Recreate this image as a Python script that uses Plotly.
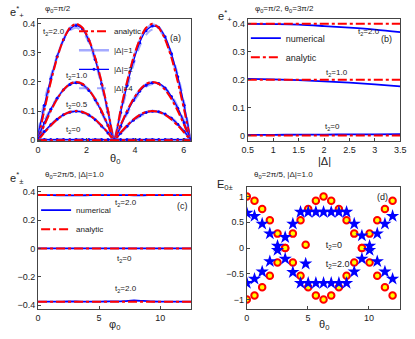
import numpy as np
import plotly.graph_objects as go

# ---------------- data ----------------
# panel (a): theta0 grid and e*_+ values
theta_a = np.linspace(0, 2 * np.pi, 25)
a_t2_20 = [0, .104, .2, .283, .346, .386, .4, .386, .346, .283, .2, .104, 0,
           .104, .2, .283, .346, .386, .4, .386, .346, .283, .2, .104, 0]
a_t2_10 = [0, .052, .1, .141, .173, .193, .2, .193, .173, .141, .1, .052, 0,
           .052, .1, .141, .173, .193, .2, .193, .173, .141, .1, .052, 0]
a_t2_05 = [0, .026, .05, .071, .087, .097, .1, .097, .087, .071, .05, .026, 0,
           .026, .05, .071, .087, .097, .1, .097, .087, .071, .05, .026, 0]
a_t2_00 = [0] * 25

d1_t2_20 = [.01, .11, .205, .285, .346, .385, .398, .385, .345, .28, .197, .1, .005,
            .1, .195, .278, .342, .383, .397, .388, .352, .29, .21, .112, .005]
d2_t2_20 = [.02, .12, .21, .287, .345, .382, .394, .382, .342, .277, .193, .097, .005,
            .095, .188, .27, .335, .376, .392, .387, .355, .297, .218, .12, .005]
d4_t2_20 = [.03, .135, .22, .29, .343, .377, .386, .375, .335, .27, .186, .09, .005,
            .085, .176, .257, .322, .362, .38, .377, .352, .3, .225, .13, .005]

d1_t2_10 = [.005, .055, .103, .142, .173, .193, .2, .193, .173, .141, .1, .052, .003,
            .05, .098, .14, .172, .192, .199, .194, .176, .146, .106, .057, .003]
d2_t2_10 = [.01, .06, .106, .144, .173, .191, .197, .191, .171, .139, .097, .05, .003,
            .048, .095, .136, .168, .189, .197, .195, .179, .15, .11, .06, .003]
d4_t2_10 = [.015, .068, .11, .146, .172, .189, .194, .188, .168, .135, .093, .046, .003,
            .043, .089, .13, .162, .184, .193, .193, .18, .155, .115, .066, .003]

d1_t2_05 = [.003, .028, .051, .071, .087, .097, .1, .097, .087, .071, .05, .026, .002,
            .025, .049, .07, .086, .096, .1, .097, .088, .073, .053, .029, .002]
d2_t2_05 = [.005, .03, .053, .072, .087, .096, .099, .096, .086, .07, .049, .025, .002,
            .024, .048, .068, .084, .095, .099, .098, .09, .075, .055, .03, .002]
d4_t2_05 = [.008, .034, .055, .073, .086, .095, .097, .094, .084, .068, .047, .023, .002,
            .022, .045, .065, .081, .092, .097, .097, .09, .078, .058, .033, .002]

d1_t2_00 = [.001] * 25
d2_t2_00 = [.002] * 25
d4_t2_00 = [.004] * 25

# panel (b): |Delta| grid
delta_b = [0.5, 1.0, 1.5, 2.0, 2.5, 3.0, 3.5]
b_num_20 = [0.400, 0.399, 0.397, 0.392, 0.386, 0.379, 0.370]
b_num_10 = [0.203, 0.201, 0.198, 0.194, 0.189, 0.183, 0.176]
b_num_00 = [0.002, 0.002, 0.003, 0.003, 0.004, 0.004, 0.005]
b_ana_20 = [0.4] * 7
b_ana_10 = [0.2] * 7
b_ana_00 = [0.0] * 7

# panel (c): phi0 grid
phi_c = np.linspace(0, 4 * np.pi, 17)
c_num_p = [0.376, 0.376, 0.375, 0.374, 0.374, 0.375, 0.376, 0.376, 0.376,
           0.376, 0.375, 0.375, 0.376, 0.376, 0.376, 0.376, 0.376]
c_num_0 = [0.0] * 17
c_num_m = [-0.376, -0.376, -0.376, -0.375, -0.375, -0.376, -0.376, -0.375, -0.374,
           -0.372, -0.368, -0.371, -0.375, -0.376, -0.376, -0.376, -0.376]
c_ana_p = [0.377] * 17
c_ana_0 = [0.0] * 17
c_ana_m = [-0.377] * 17

# panel (d): theta0 grid
theta_d = np.linspace(0, 19 * np.pi / 5, 20)
d_c_up = [1.0, 0.92, 0.76, 0.54, 0.28, 0.0, 0.28, 0.54, 0.76, 0.92,
          1.0, 0.92, 0.76, 0.54, 0.28, 0.0, 0.28, 0.54, 0.76, 0.92]
d_c_dn = [-1.0, -0.92, -0.76, -0.54, -0.28, 0.0, -0.28, -0.54, -0.76, -0.92,
          -1.0, -0.92, -0.76, -0.54, -0.28, 0.0, -0.28, -0.54, -0.76, -0.92]
d_s_up = [0.68, 0.62, 0.47, 0.28, 0.04, 0.21, 0.47, 0.70, 0.70, 0.70,
          0.70, 0.70, 0.70, 0.70, 0.47, 0.24, 0.04, 0.28, 0.47, 0.62]
d_s_dn = [-0.68, -0.60, -0.46, -0.26, -0.04, -0.21, -0.47, -0.68, -0.68, -0.68,
          -0.68, -0.68, -0.68, -0.68, -0.46, -0.21, -0.04, -0.26, -0.46, -0.60]

# ---------------- styles ----------------
RED = "#ff0000"
BLUE = "#0000ff"
LBLUE = "rgba(90,100,255,0.55)"
FONT = "Liberation Sans, Arial, sans-serif"

fig = go.Figure()

def add(x, y, xa, ya, name=None, legend=None, show=False, **kw):
    fig.add_trace(go.Scatter(x=x, y=y, xaxis=xa, yaxis=ya, name=name,
                             showlegend=show, legend=legend, **kw))

# panel (a)
for arr1, arr2, arr4, arrA in [(d1_t2_20, d2_t2_20, d4_t2_20, a_t2_20),
                               (d1_t2_10, d2_t2_10, d4_t2_10, a_t2_10),
                               (d1_t2_05, d2_t2_05, d4_t2_05, a_t2_05),
                               (d1_t2_00, d2_t2_00, d4_t2_00, a_t2_00)]:
    add(theta_a, arr1, "x", "y", "|Δ|=1", "legend", False,
        mode="lines", line=dict(color=LBLUE, width=2.5, shape="spline", smoothing=0.6))
    add(theta_a, arr4, "x", "y", "|Δ|=4", "legend", False,
        mode="lines", line=dict(color=LBLUE, width=2, dash="dash", shape="spline", smoothing=0.6))
    add(theta_a, arr2, "x", "y", "|Δ|=2", "legend", False,
        mode="lines+markers", marker=dict(size=3, color=BLUE),
        line=dict(color=BLUE, width=1.2, shape="spline", smoothing=0.6))
    add(theta_a, arrA, "x", "y", "analytic", "legend", False,
        mode="lines", line=dict(color=RED, width=2, dash="dashdot", shape="spline", smoothing=0.6))

# legend entries for (a)
add([None], [None], "x", "y", "analytic", "legend", True, mode="lines",
    line=dict(color=RED, width=2, dash="dashdot"))
add([None], [None], "x", "y", "|Δ|=1", "legend", True, mode="lines",
    line=dict(color=LBLUE, width=2.5))
add([None], [None], "x", "y", "|Δ|=2", "legend", True, mode="lines+markers",
    marker=dict(size=3, color=BLUE), line=dict(color=BLUE, width=1.2))
add([None], [None], "x", "y", "|Δ|=4", "legend", True, mode="lines",
    line=dict(color=LBLUE, width=2, dash="dash"))

# panel (b)
for arr in [b_num_20, b_num_10, b_num_00]:
    add(delta_b, arr, "x2", "y2", "numerical", "legend2", arr is b_num_20,
        mode="lines", line=dict(color=BLUE, width=1.8, shape="spline"))
for arr in [b_ana_20, b_ana_10, b_ana_00]:
    add(delta_b, arr, "x2", "y2", "analytic", "legend2", arr is b_ana_20,
        mode="lines", line=dict(color=RED, width=2, dash="dashdot"))

# panel (c)
for arr in [c_num_p, c_num_0, c_num_m]:
    add(phi_c, arr, "x3", "y3", "numerical", "legend3", arr is c_num_p,
        mode="lines", line=dict(color=BLUE, width=1.8, shape="spline"))
for arr in [c_ana_p, c_ana_0, c_ana_m]:
    add(phi_c, arr, "x3", "y3", "analytic", "legend3", arr is c_ana_p,
        mode="lines", line=dict(color=RED, width=2, dash="dashdot"))

# panel (d)
circ = dict(symbol="circle", size=6.5, color="#ffff00", line=dict(color=RED, width=2))
star = dict(symbol="star", size=10, color=BLUE, line=dict(width=0))
add(theta_d, d_c_up, "x4", "y4", "t<sub>2</sub>=0", "legend4", True, mode="markers", marker=circ)
add(theta_d, d_c_dn, "x4", "y4", None, "legend4", False, mode="markers", marker=circ)
add(theta_d, d_s_up, "x4", "y4", "t<sub>2</sub>=2.0", "legend4", True, mode="markers", marker=star)
add(theta_d, d_s_dn, "x4", "y4", None, "legend4", False, mode="markers", marker=star)

# ---------------- layout ----------------
W, H = 415, 339
def dx(a, b):
    return [a / W, b / W]
def dy(top, bot):
    return [1 - bot / H, 1 - top / H]

axis_common = dict(showline=True, mirror=True, linecolor="#444", linewidth=1,
                   ticks="inside", ticklen=3, tickcolor="#444", showgrid=False,
                   zeroline=False, tickfont=dict(size=9, color="#222", family=FONT))

fig.update_layout(
    width=W, height=H, margin=dict(l=0, r=0, t=0, b=0),
    paper_bgcolor="white", plot_bgcolor="white",
    font=dict(family=FONT, size=9, color="#222"),
    xaxis=dict(domain=dx(33, 190), range=[0, 2 * np.pi], tickvals=[0, 2, 4, 6], anchor="y", **axis_common),
    yaxis=dict(domain=dy(19, 143), range=[-0.004, 0.417], tickvals=[0, 0.1, 0.2, 0.3, 0.4], anchor="x", **axis_common),
    xaxis2=dict(domain=dx(249, 406), range=[0.5, 3.5], tickvals=[0.5, 1, 1.5, 2, 2.5, 3, 3.5], anchor="y2", **axis_common),
    yaxis2=dict(domain=dy(19, 143), range=[-0.021, 0.418], tickvals=[0, 0.1, 0.2, 0.3, 0.4], anchor="x2", **axis_common),
    xaxis3=dict(domain=dx(33, 191), range=[0, 4 * np.pi], tickvals=[0, 5, 10], anchor="y3", **axis_common),
    yaxis3=dict(domain=dy(189, 313), range=[-0.43, 0.435], tickvals=[-0.4, -0.2, 0, 0.2, 0.4],
                ticktext=["−0.4", "−0.2", "0", "0.2", "0.4"], anchor="x3", **axis_common),
    xaxis4=dict(domain=dx(248, 406), range=[0, 4 * np.pi], tickvals=[0, 5, 10], anchor="y4", **axis_common),
    yaxis4=dict(domain=dy(189, 313), range=[-1.19, 1.19], tickvals=[-1, -0.5, 0, 0.5, 1],
                ticktext=["−1", "−0.5", "0", "0.5", "1"], anchor="x4", **axis_common),
    legend=dict(x=70 / W, y=1 - 17 / H, xanchor="left", yanchor="top", bgcolor="rgba(0,0,0,0)",
                font=dict(size=8), tracegroupgap=0, itemwidth=30),
    legend2=dict(x=247 / W, y=1 - 24 / H, xanchor="left", yanchor="top", bgcolor="rgba(0,0,0,0)",
                 font=dict(size=9), itemwidth=30),
    legend3=dict(x=31 / W, y=1 - 198 / H, xanchor="left", yanchor="top", bgcolor="rgba(0,0,0,0)",
                 font=dict(size=8), itemwidth=30),
    legend4=dict(x=288 / W, y=1 - 233 / H, xanchor="left", yanchor="top", bgcolor="rgba(0,0,0,0)",
                 font=dict(size=9), itemwidth=30),
)

def ann(text, x, y, xref, yref, size=9, xanchor="center", yanchor="middle"):
    fig.add_annotation(text=text, x=x, y=y, xref=xref, yref=yref, showarrow=False,
                       font=dict(size=size, family=FONT, color="#222"),
                       xanchor=xanchor, yanchor=yanchor)

# panel titles / axis titles (paper coordinates)
ann("φ<sub>0</sub>=π/2", 38 / W, 1 - 9 / H, "paper", "paper", 8, "left")
ann("φ<sub>0</sub>=π/2, θ<sub>0</sub>=3π/2", 254 / W, 1 - 9 / H, "paper", "paper", 8, "left")
ann("θ<sub>0</sub>=2π/5, |Δ|=1.0", 38 / W, 1 - 177 / H, "paper", "paper", 8, "left")
ann("θ<sub>0</sub>=2π/5, |Δ|=1.0", 253 / W, 1 - 177 / H, "paper", "paper", 8, "left")
ann("e<sup>*</sup><sub>+</sub>", 2 / W, 1 - 12 / H, "paper", "paper", 11, "left")
ann("e<sup>*</sup><sub>+</sub>", 216 / W, 1 - 16 / H, "paper", "paper", 11, "left")
ann("e<sup>*</sup><sub>±</sub>", 2 / W, 1 - 180 / H, "paper", "paper", 11, "left")
ann("E<sub>0±</sub>", 215 / W, 1 - 187 / H, "paper", "paper", 11, "left")
ann("θ<sub>0</sub>", 112 / W, 1 - 161 / H, "paper", "paper", 11)
ann("|Δ|", 328 / W, 1 - 163 / H, "paper", "paper", 11)
ann("φ<sub>0</sub>", 112 / W, 1 - 329 / H, "paper", "paper", 11)
ann("θ<sub>0</sub>", 327 / W, 1 - 329 / H, "paper", "paper", 11)

# in-panel labels
ann("(a)", 5.68, 0.35, "x", "y", 9)
ann("t<sub>2</sub>=2.0", 0.12, 0.373, "x", "y", 8, "left")
ann("t<sub>2</sub>=1.0", 1.09, 0.222, "x", "y", 8, "left")
ann("t<sub>2</sub>=0.5", 1.09, 0.122, "x", "y", 8, "left")
ann("t<sub>2</sub>=0", 1.09, 0.034, "x", "y", 8, "left")
ann("(b)", 3.22, 0.345, "x2", "y2", 9)
ann("t<sub>2</sub>=2.0", 2.62, 0.372, "x2", "y2", 8, "left")
ann("t<sub>2</sub>=1.0", 1.99, 0.223, "x2", "y2", 8, "left")
ann("t<sub>2</sub>=0", 1.97, 0.032, "x2", "y2", 8, "left")
ann("(c)", 11.85, 0.30, "x3", "y3", 9)
ann("t<sub>2</sub>=2.0", 6.16, 0.32, "x3", "y3", 8, "left")
ann("t<sub>2</sub>=0", 6.3, -0.077, "x3", "y3", 8, "left")
ann("t<sub>2</sub>=2.0", 6.16, -0.29, "x3", "y3", 8, "left")
ann("(d)", 11.1, 1.0, "x4", "y4", 9)

fig.write_html("out.html", config={"displayModeBar": False},
               post_script="document.body.style.margin='0';")
